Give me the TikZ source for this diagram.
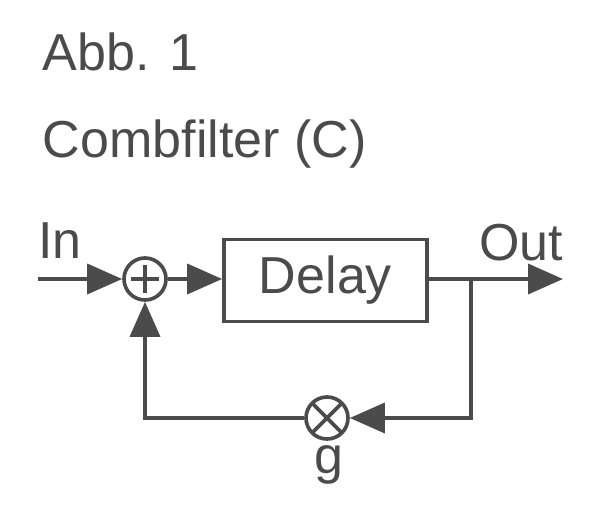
\documentclass[tikz,border=0pt]{standalone}
\usepackage{fontspec}
\setmainfont{Liberation Sans}
\usetikzlibrary{arrows.meta}
\definecolor{inkgrey}{RGB}{75,75,75}

\begin{document}
\begin{tikzpicture}[x=0.025cm, y=-0.025cm, line width=2.6pt, draw=inkgrey,
  every node/.style={font=\fontsize{37}{44}\selectfont, text=inkgrey, inner sep=0pt},
  sig/.style={-{Triangle[length=0.875cm,width=0.75cm,fill=inkgrey]}},
  junction/.style={circle, draw, minimum size=1.05cm}]
  \useasboundingbox (0,0) rectangle (596,518);
  \node[anchor=base west] (abb) at (41,71) {Abb. 1};
  \node[anchor=base west] (title) at (41,157) {Combfilter (C)};
  \node[junction, path picture={
      \draw ([xshift=-0.35cm]path picture bounding box.center) -- ([xshift=0.35cm]path picture bounding box.center);
      \draw ([yshift=-0.35cm]path picture bounding box.center) -- ([yshift=0.35cm]path picture bounding box.center);}]
    (sum) at (145,279) {};
  \node[draw, minimum width=5.075cm, minimum height=2.05cm] (delay) at (325.5,280.5) {Delay};
  \node[junction, path picture={
      \draw (path picture bounding box.north west) -- (path picture bounding box.south east);
      \draw (path picture bounding box.north east) -- (path picture bounding box.south west);}]
    (mult) at (327,418) {};
  \coordinate (in) at (38,279);
  \coordinate (split) at (471,279);
  \coordinate (out) at (563,279);
  \coordinate (back) at (471,418);
  \coordinate (corner) at (145,418);
  \draw[sig] (in) -- (sum);
  \draw[sig] (sum) -- (sum -| delay.west);
  \draw[sig] (delay.east |- split) -- (out);
  \draw[sig] (split) -- (back) -- (mult);
  \draw[sig] (mult) -- (corner) -- (sum);
  \node[anchor=base] (inlabel) at (60,258) {In};
  \node[anchor=base] (outlabel) at (521,260) {Out};
  \node[anchor=base] (gain) at (329,473) {g};
\end{tikzpicture}
\end{document}
